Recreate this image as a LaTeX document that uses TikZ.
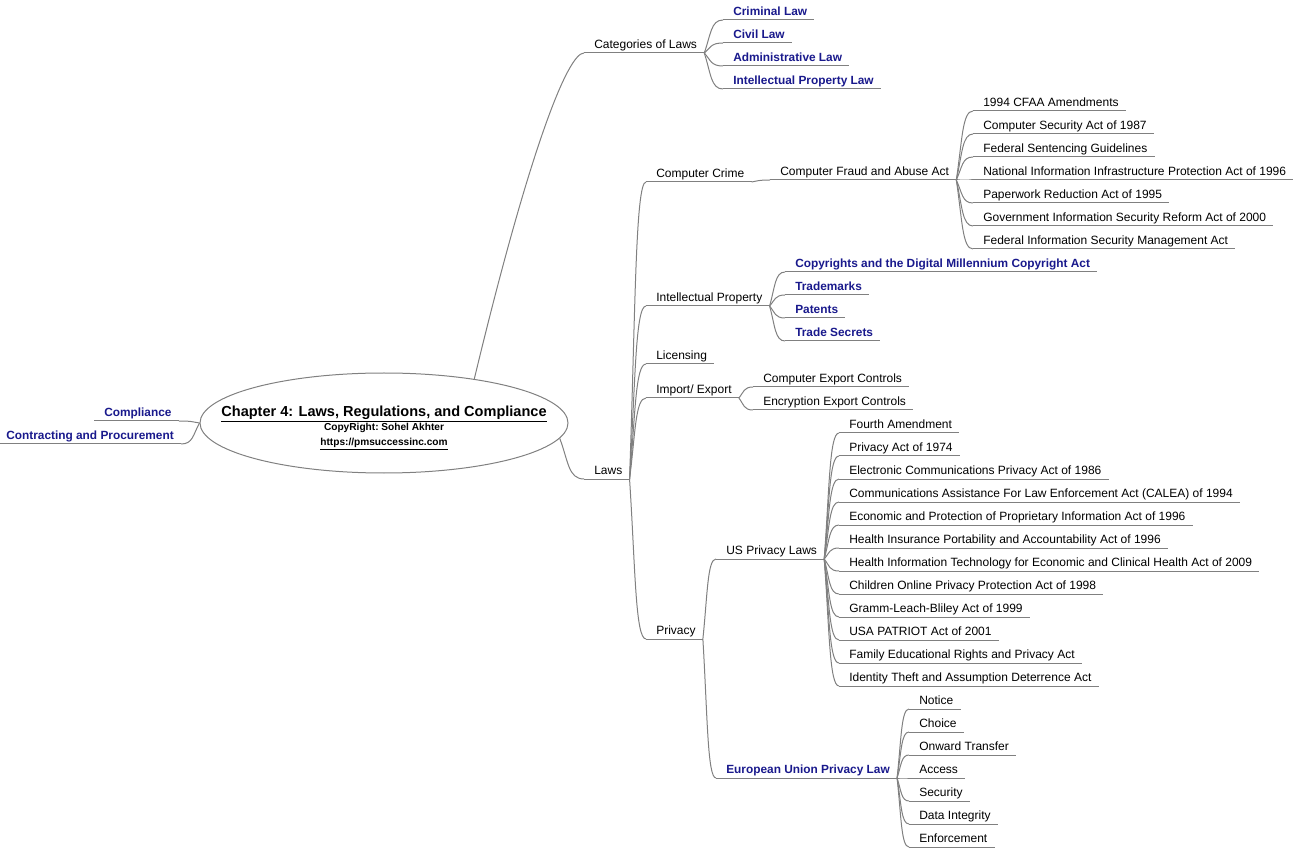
\documentclass[tikz,border=0pt]{standalone}
\usepackage{fontspec}
\setmainfont{Liberation Sans}
\usetikzlibrary{shapes.geometric,calc}
\definecolor{linegray}{RGB}{128,128,128}
\definecolor{mmblue}{RGB}{25,25,140}
\tikzset{
  leaf/.style={anchor=south west, inner xsep=5.25pt, inner ysep=1.5pt, text height=7pt, text depth=2pt,
    font=\fontsize{9}{10}\selectfont, execute at begin node={\hspace*{2.25pt}}, text=black},
  bleaf/.style={leaf, text=mmblue, font=\fontsize{8.9}{10}\selectfont\bfseries},
  uline/.style={draw=linegray, line width=0.75pt},
  link/.style={draw=linegray, line width=0.75pt,
    to path={let \p1=(\tikztostart), \p2=(\tikztotarget) in
      .. controls ({\x1+0.35*(\x2-\x1)},{\y1+0.55*(\y2-\y1)}) and ({\x1+0.35*(\x2-\x1)},\y2) .. (\tikztotarget)}},
  trunk/.style={draw=linegray, line width=0.75pt,
    to path={let \p1=(\tikztostart), \p2=(\tikztotarget) in
      .. controls ({\x1+0.5*(\x2-\x1)},{\y1+0.7*(\y2-\y1)}) and ({\x1+0.85*(\x2-\x1)},\y2) .. (\tikztotarget)}},
}
\begin{document}
\begin{tikzpicture}[x=0.75pt,y=-0.75pt]
\useasboundingbox (0,0) rectangle (1296,848);
% central topic
\node[ellipse, draw=linegray, line width=0.75pt, minimum width=276pt, minimum height=75pt, inner sep=0pt] (root) at (384,423) {};
\node[anchor=base, font=\fontsize{10.9}{12}\selectfont\bfseries, inner sep=0pt] (title) at (384,416.5) {\underline{Chapter 4: Laws, Regulations, and Compliance}};
\node[anchor=base, font=\fontsize{7.6}{9}\selectfont\bfseries, inner sep=0pt] (copy) at (384,431) {CopyRight:\ Sohel Akhter};
\node[anchor=base, font=\fontsize{7.6}{9}\selectfont\bfseries, inner sep=0pt] (url) at (384,445.5) {\underline{https://pmsuccessinc.com}};
% left side
\node[bleaf] (comp) at (94,421) {Compliance};
\node[bleaf] (cont) at (-4,444) {Contracting and Procurement};
% categories
\node[leaf] (cat) at (584,53) {Categories of Laws};
\node[bleaf] (crim) at (723,20) {Criminal Law};
\node[bleaf] (civil) at (723,43) {Civil Law};
\node[bleaf] (admin) at (723,66) {Administrative Law};
\node[bleaf] (iplaw) at (723,89) {Intellectual Property Law};
% laws
\node[leaf] (laws) at (584,479) {Laws};
\node[leaf] (cc) at (646,182) {Computer Crime};
\node[leaf] (cfaa) at (770,180) {Computer Fraud and Abuse Act};
\node[leaf] (f1) at (973,111) {1994 CFAA Amendments};
\node[leaf] (f2) at (973,134) {Computer Security Act of 1987};
\node[leaf] (f3) at (973,157) {Federal Sentencing Guidelines};
\node[leaf] (f4) at (973,180) {National Information Infrastructure Protection Act of 1996};
\node[leaf] (f5) at (973,203) {Paperwork Reduction Act of 1995};
\node[leaf] (f6) at (973,226) {Government Information Security Reform Act of 2000};
\node[leaf] (f7) at (973,249) {Federal Information Security Management Act};
\node[leaf] (ip) at (646,306) {Intellectual Property};
\node[bleaf] (ip1) at (785,272) {Copyrights and the Digital Millennium Copyright Act};
\node[bleaf] (ip2) at (785,295) {Trademarks};
\node[bleaf] (ip3) at (785,318) {Patents};
\node[bleaf] (ip4) at (785,341) {Trade Secrets};
\node[leaf] (lic) at (646,364) {Licensing};
\node[leaf] (ie) at (646,398) {Import/ Export};
\node[leaf] (ie1) at (753,387) {Computer Export Controls};
\node[leaf] (ie2) at (753,410) {Encryption Export Controls};
\node[leaf] (priv) at (646,639) {Privacy};
\node[leaf] (us) at (716,559) {US Privacy Laws};
\node[leaf] (us1) at (839,433) {Fourth Amendment};
\node[leaf] (us2) at (839,456) {Privacy Act of 1974};
\node[leaf] (us3) at (839,479) {Electronic Communications Privacy Act of 1986};
\node[leaf] (us4) at (839,502) {Communications Assistance For Law Enforcement Act (CALEA) of 1994};
\node[leaf] (us5) at (839,525) {Economic and Protection of Proprietary Information Act of 1996};
\node[leaf] (us6) at (839,548) {Health Insurance Portability and Accountability Act of 1996};
\node[leaf] (us7) at (839,571) {Health Information Technology for Economic and Clinical Health Act of 2009};
\node[leaf] (us8) at (839,594) {Children Online Privacy Protection Act of 1998};
\node[leaf] (us9) at (839,617) {Gramm-Leach-Bliley Act of 1999};
\node[leaf] (us10) at (839,640) {USA PATRIOT Act of 2001};
\node[leaf] (us11) at (839,663) {Family Educational Rights and Privacy Act};
\node[leaf] (us12) at (839,686) {Identity Theft and Assumption Deterrence Act};
\node[bleaf] (eu) at (716,778) {European Union Privacy Law};
\node[leaf] (eu1) at (909,709) {Notice};
\node[leaf] (eu2) at (909,732) {Choice};
\node[leaf] (eu3) at (909,755) {Onward Transfer};
\node[leaf] (eu4) at (909,778) {Access};
\node[leaf] (eu5) at (909,801) {Security};
\node[leaf] (eu6) at (909,824) {Data Integrity};
\node[leaf] (eu7) at (909,847) {Enforcement};
% underlines
\foreach \n in {comp,cont,cat,crim,civil,admin,iplaw,laws,cc,cfaa,f1,f2,f3,f4,f5,f6,f7,ip,ip1,ip2,ip3,ip4,lic,ie,ie1,ie2,priv,us,us1,us2,us3,us4,us5,us6,us7,us8,us9,us10,us11,us12,eu,eu1,eu2,eu3,eu4,eu5,eu6,eu7}
  \draw[uline] (\n.south west) -- (\n.south east);
% connectors from the central topic
\draw[trunk] (root.26) to (cat.south west);
\draw[link] (root.-5) to (laws.south west);
\draw[link] (root.west) to (comp.south east);
\draw[link] (root.west) to (cont.south east);
% connectors between topics
\foreach \a/\b in {cat/crim,cat/civil,cat/admin,cat/iplaw,
  laws/cc,laws/ip,laws/lic,laws/ie,laws/priv,cc/cfaa,
  cfaa/f1,cfaa/f2,cfaa/f3,cfaa/f4,cfaa/f5,cfaa/f6,cfaa/f7,
  ip/ip1,ip/ip2,ip/ip3,ip/ip4,ie/ie1,ie/ie2,priv/us,priv/eu,
  us/us1,us/us2,us/us3,us/us4,us/us5,us/us6,us/us7,us/us8,us/us9,us/us10,us/us11,us/us12,
  eu/eu1,eu/eu2,eu/eu3,eu/eu4,eu/eu5,eu/eu6,eu/eu7}
  \draw[link] (\a.south east) to (\b.south west);
\end{tikzpicture}
\end{document}
